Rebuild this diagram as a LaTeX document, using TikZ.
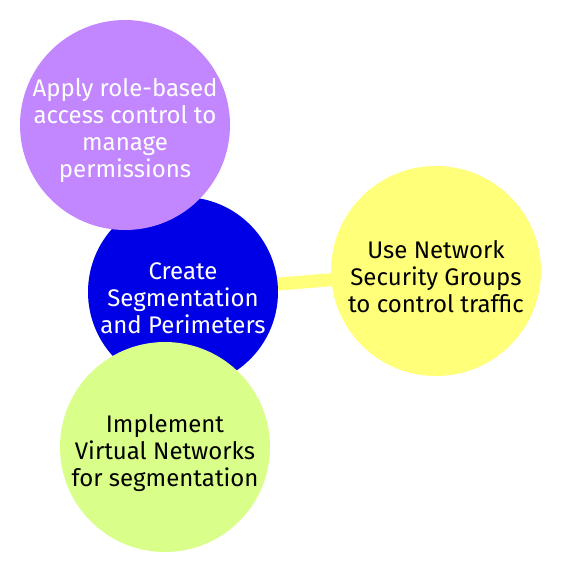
\documentclass[tikz,border=0pt]{standalone}
\usepackage{fontspec}
\setmainfont{Fira Sans}
\usepackage{tikz}
\pgfdeclarelayer{background}
\pgfdeclarelayer{foreground}
\pgfsetlayers{background,main,foreground}
\definecolor{rootblue}{RGB}{0,0,230}
\definecolor{ideapurple}{RGB}{194,135,254}
\definecolor{ideayellow}{RGB}{255,255,122}
\definecolor{ideagreen}{RGB}{217,255,138}

\begin{document}
\begin{tikzpicture}[x=1pt,y=-1pt,
  idea/.style={circle,minimum size=210pt,inner sep=0pt},
  every label/.style={align=center,yshift=-6pt,
    font=\fontsize{24}{27}\selectfont}]
\useasboundingbox (0,0) rectangle (560,573);
\node[idea,fill=rootblue,minimum size=190pt,
  label={[name=rootText,text=white]center:Create\\Segmentation\\and Perimeters}] (root) at (183,292) {};
\node[idea,fill=ideapurple,
  label={[name=rbacText,text=white]center:Apply role-based\\access control to\\manage\\permissions}] (rbac) at (125,125) {};
\node[idea,fill=ideayellow,
  label={[name=nsgText]center:Use Network\\Security Groups\\to control traffic}] (nsg) at (436,271) {};
\node[idea,fill=ideagreen,
  label={[name=vnetText]center:Implement\\Virtual Networks\\for segmentation}] (vnet) at (165,447) {};
\begin{pgfonlayer}{background}
\draw[ideayellow,line width=13pt] (root.center) -- (nsg.center);
\end{pgfonlayer}
\end{tikzpicture}
\end{document}
